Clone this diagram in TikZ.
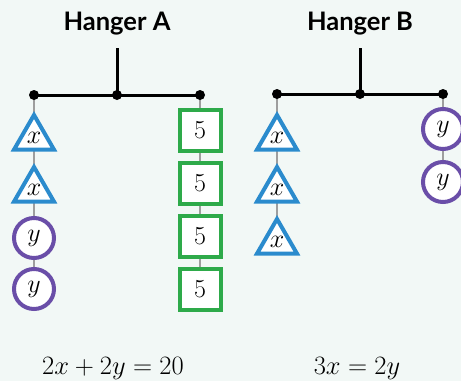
\documentclass[tikz,border=0pt]{standalone}
\usepackage{fix-cm}
\usepackage{fontspec}
\setsansfont{Lato}
\usetikzlibrary{shapes.geometric}
\pgfdeclarelayer{bg}
\pgfsetlayers{bg,main}
\definecolor{bgc}{RGB}{242,248,246}
\definecolor{tri}{RGB}{43,139,205}
\definecolor{sq}{RGB}{46,170,74}
\definecolor{cir}{RGB}{106,78,168}
\definecolor{hang}{RGB}{158,158,158}
\tikzset{
  lab/.style={font=\fontsize{26.5}{30}\selectfont},
  title/.style={font=\sffamily\bfseries\fontsize{25.5}{30}\selectfont},
  dotn/.style={circle,fill=black,inner sep=0pt,minimum size=10pt},
  trinode/.style={regular polygon,regular polygon sides=3,draw=tri,line width=4pt,fill=white,inner sep=0pt,minimum size=46pt,font=\fontsize{26}{30}\selectfont},
  sqnode/.style={rectangle,draw=sq,line width=4pt,fill=white,inner sep=0pt,minimum size=41pt,font=\fontsize{26}{30}\selectfont},
  cirnode/.style={circle,draw=cir,line width=4pt,fill=white,inner sep=0pt,minimum size=40pt,font=\fontsize{26}{30}\selectfont},
  bar/.style={line width=3pt,black},
  cord/.style={line width=2pt,hang},
}
\begin{document}
\begin{tikzpicture}[x=1pt,y=-1pt]
\useasboundingbox (0,0) rectangle (461,381);
\begin{pgfonlayer}{bg}
\fill[bgc] (0,0) rectangle (461,381);
\end{pgfonlayer}
% Hanger A
\node[title] (tA) at (117,24) {Hanger A};
\coordinate (topA) at (117,48);
\node[dotn] (pA) at (117,95) {};
\node[dotn] (lA) at (34,95) {};
\node[dotn] (rA) at (200,95) {};
\draw[bar] (topA) -- (pA.center);
\draw[bar] (lA.center) -- (rA.center);
\node[trinode] (a1) at (34,138) {$x$};
\node[trinode] (a2) at (34,190) {$x$};
\node[cirnode] (a3) at (34,238) {$y$};
\node[cirnode] (a4) at (34,289) {$y$};
\node[sqnode] (b1) at (200,130) {$5$};
\node[sqnode] (b2) at (200,183) {$5$};
\node[sqnode] (b3) at (200,236) {$5$};
\node[sqnode] (b4) at (200,289) {$5$};
% Hanger B
\node[title] (tB) at (360,24) {Hanger B};
\coordinate (topB) at (360,48);
\node[dotn] (pB) at (360,94) {};
\node[dotn] (lB) at (277,94) {};
\node[dotn] (rB) at (443,94) {};
\draw[bar] (topB) -- (pB.center);
\draw[bar] (lB.center) -- (rB.center);
\node[trinode] (c1) at (277,138) {$x$};
\node[trinode] (c2) at (277,190) {$x$};
\node[trinode] (c3) at (277,242) {$x$};
\node[cirnode] (d1) at (443,129) {$y$};
\node[cirnode] (d2) at (443,182) {$y$};
\begin{pgfonlayer}{bg}
\draw[cord] (lA.center) -- (a1.center) -- (a2.center) -- (a3.center) -- (a4.center);
\draw[cord] (rA.center) -- (b1.center) -- (b2.center) -- (b3.center) -- (b4.center);
\draw[cord] (lB.center) -- (c1.center) -- (c2.center) -- (c3.center);
\draw[cord] (rB.center) -- (d1.center) -- (d2.center);
\end{pgfonlayer}
% equations
\node[lab,anchor=base] (eA) at (113,374) {$2x+2y=20$};
\node[lab,anchor=base] (eB) at (357,374) {$3x=2y$};
\end{tikzpicture}
\end{document}
